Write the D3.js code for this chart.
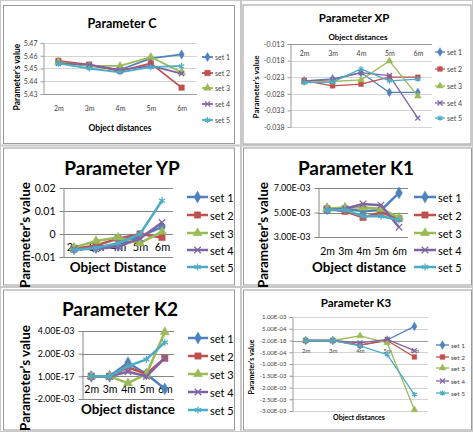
<!DOCTYPE html>
<html><head><meta charset="utf-8">
<script src="https://cdn.jsdelivr.net/npm/d3@7"></script>
<style>body{margin:0;background:#fff}svg{display:block}</style>
</head><body>
<script>
// ---------- DATA ----------
const categories = ["2m", "3m", "4m", "5m", "6m"];
const seriesNames = ["set 1", "set 2", "set 3", "set 4", "set 5"];
const seriesColors = ["#4F81BD", "#C0504D", "#9BBB59", "#8064A2", "#4BACC6"];

const cValues = [
  [5.455, 5.452, 5.449, 5.458, 5.461],
  [5.456, 5.453, 5.448, 5.454, 5.435],
  [5.455, 5.452, 5.452, 5.459, 5.447],
  [5.454, 5.453, 5.449, 5.452, 5.446],
  [5.454, 5.450, 5.447, 5.451, 5.452]
];
const cTicks = [5.43, 5.44, 5.45, 5.46, 5.47];
const cTickLabels = ["5.43", "5.44", "5.45", "5.46", "5.47"];

const xpValues = [
  [-0.0241, -0.0235, -0.0216, -0.0276, -0.0276],
  [-0.0240, -0.0256, -0.0251, -0.0230, -0.0230],
  [-0.0245, -0.0243, -0.0238, -0.0181, -0.0287],
  [-0.0241, -0.0238, -0.0216, -0.0225, -0.0353],
  [-0.0246, -0.0245, -0.0205, -0.0241, -0.0236]
];
const xpTicks = [-0.038, -0.033, -0.028, -0.023, -0.018, -0.013];
const xpTickLabels = ["-0.038", "-0.033", "-0.028", "-0.023", "-0.018", "-0.013"];

const ypValues = [
  [-0.0065, -0.0060, -0.0050, -0.0010, 0.0030],
  [-0.0065, -0.0050, -0.0020, 0.0000, -0.0015],
  [-0.0060, -0.0030, -0.0015, -0.0040, 0.0010],
  [-0.0065, -0.0065, -0.0055, -0.0020, 0.0050],
  [-0.0070, -0.0060, -0.0040, 0.0000, 0.0145]
];
const ypTicks = [-0.01, 0, 0.01, 0.02];
const ypTickLabels = ["-0.01", "0", "0.01", "0.02"];

const k1Values = [
  [5.3e-3, 5.3e-3, 5.1e-3, 5.2e-3, 6.6e-3],
  [5.3e-3, 5.1e-3, 4.6e-3, 5.0e-3, 4.5e-3],
  [5.3e-3, 5.4e-3, 5.4e-3, 5.3e-3, 4.6e-3],
  [5.2e-3, 5.3e-3, 5.7e-3, 5.6e-3, 3.8e-3],
  [5.2e-3, 5.2e-3, 4.7e-3, 4.7e-3, 4.4e-3]
];
const k1Ticks = [3e-3, 5e-3, 7e-3];
const k1TickLabels = ["3.00E-03", "5.00E-03", "7.00E-03"];

const k2Values = [
  [0, 0, 1.2e-3, 0.2e-3, -1.1e-3],
  [0, 0, 0.8e-3, 0.2e-3, 1.6e-3],
  [0, 0, -0.6e-3, 0.2e-3, 3.9e-3],
  [0, 0, 0.4e-3, 0.0, 1.6e-3],
  [0, 0, 0.9e-3, 1.5e-3, 3.0e-3]
];
const k2Ticks = [-2e-3, 0, 2e-3, 4e-3];
const k2TickLabels = ["-2.00E-03", "1.00E-17", "2.00E-03", "4.00E-03"];

const k3Values = [
  [0, 0, -2.0e-4, 0.2e-4, 6.0e-4],
  [0, 0, -2.0e-4, 0.0, -7.0e-4],
  [0, 0, 2.0e-4, -1.0e-4, -2.95e-3],
  [0, 0, -1.0e-4, 0.5e-4, -4.3e-4],
  [0, 0, -2.3e-4, -6.0e-4, -2.3e-3]
];
const k3Ticks = [-3e-3, -2.5e-3, -2e-3, -1.5e-3, -1e-3, -5e-4, 0, 5e-4, 1e-3];
const k3TickLabels = ["-3.00E-03", "-2.50E-03", "-2.00E-03", "-1.50E-03", "-1.00E-03", "-5.00E-04", "-2.00E-18", "5.00E-04", "1.00E-03"];

// ---------- DRAW ----------
const W = 473, H = 432;
const svg = d3.select("body").append("svg").attr("width", W).attr("height", H);
svg.append("rect").attr("width", W).attr("height", H).attr("fill", "#fff");

const sepColor = "#c8c8c8";
[[241, 0, 241, H], [0, 145.5, W, 145.5], [0, 287, W, 287]].forEach(l =>
  svg.append("line").attr("x1", l[0]).attr("y1", l[1]).attr("x2", l[2]).attr("y2", l[3])
    .attr("stroke", sepColor).attr("stroke-width", 2));
svg.append("rect").attr("x", 0.5).attr("y", 0.5).attr("width", W - 1).attr("height", H - 1)
  .attr("fill", "none").attr("stroke", sepColor);
const frames = [
  [3, 5, 231, 138], [242.5, 4.5, 228, 139],
  [3, 147.5, 231, 137], [243, 147.5, 228, 137],
  [3, 289.5, 231, 140], [243, 289.5, 228, 140]
];
frames.forEach(f => svg.append("rect").attr("x", f[0] + 0.5).attr("y", f[1] + 0.5).attr("width", f[2]).attr("height", f[3])
  .attr("fill", "none").attr("stroke", "#9a9a9a").attr("stroke-width", 1));

const symbols = [d3.symbolDiamond, d3.symbolSquare, d3.symbolTriangle, d3.symbolTimes, d3.symbolAsterisk];
const symFilled = [true, true, true, false, false];

const FONT = "Lato, 'Open Sans', sans-serif";

function drawPanel(cfg, values, ticks, tickLabels) {
  const g = svg.append("g");
  const x = d3.scalePoint().domain(categories).range([cfg.left, cfg.right]).padding(0.5);
  const y = d3.scaleLinear().domain(cfg.domain).range([cfg.bottom, cfg.top]);

  g.append("g").selectAll("line").data(ticks).join("line")
    .attr("x1", cfg.left).attr("x2", cfg.right)
    .attr("y1", d => Math.round(y(d)) + 0.5).attr("y2", d => Math.round(y(d)) + 0.5)
    .attr("stroke", cfg.gridColor).attr("stroke-width", 1);

  const ya = d3.axisLeft(y).tickValues(ticks).tickFormat((d, i) => tickLabels[i])
    .tickSize(cfg.tickLen).tickSizeOuter(0).tickPadding(cfg.yPad);
  const yg = g.append("g").attr("transform", `translate(${cfg.left + 0.5},0)`).call(ya);
  yg.selectAll("path,line").attr("stroke", cfg.axisColor);
  yg.selectAll("text").attr("font-family", FONT).attr("font-size", cfg.yTickFont || cfg.tickFont).attr("fill", cfg.tickColor);

  const xAxisY = cfg.xAxisAt != null ? Math.round(y(cfg.xAxisAt)) + 0.5 : cfg.bottom + 0.5;
  const xa = d3.axisBottom(x).tickSize(0).tickSizeOuter(0).tickPadding(cfg.xPad);
  const xg = g.append("g").attr("transform", `translate(0,${xAxisY})`).call(xa);
  xg.select("path").attr("stroke", cfg.axisColor).attr("d", `M${cfg.left},0H${cfg.right}`);
  xg.selectAll("text").attr("font-family", FONT).attr("font-size", cfg.tickFont).attr("fill", cfg.tickColor);

  values.forEach((vals, si) => {
    const pts = vals.map((v, i) => [x(categories[i]), y(v)]);
    g.append("path").attr("d", d3.line()(pts)).attr("fill", "none")
      .attr("stroke", seriesColors[si]).attr("stroke-width", cfg.lineWidth).attr("stroke-linejoin", "round");
    const sym = d3.symbol().type(symbols[si]).size(cfg.markerSize[si]);
    g.append("g").selectAll("path").data(pts).join("path")
      .attr("transform", d => `translate(${d[0]},${d[1]})`).attr("d", sym)
      .attr("fill", symFilled[si] ? seriesColors[si] : "none")
      .attr("stroke", seriesColors[si]).attr("stroke-width", symFilled[si] ? 0.5 : 1.2);
  });

  g.append("text").attr("x", cfg.title[0]).attr("y", cfg.title[1]).attr("text-anchor", "middle")
    .attr("dominant-baseline", "central").attr("font-family", FONT).attr("font-weight", "bold")
    .attr("font-size", cfg.titleFont).attr("fill", "#000").text(cfg.titleText);
  g.append("text").attr("x", cfg.xTitle[0]).attr("y", cfg.xTitle[1]).attr("text-anchor", "middle")
    .attr("dominant-baseline", "central").attr("font-family", FONT).attr("font-weight", "bold")
    .attr("font-size", cfg.axisTitleFont).attr("fill", "#000").text(cfg.xTitleText);
  g.append("text").attr("transform", `translate(${cfg.yTitle[0]},${cfg.yTitle[1]}) rotate(-90)`)
    .attr("text-anchor", "middle").attr("dominant-baseline", "central").attr("font-family", FONT)
    .attr("font-weight", "bold").attr("font-size", cfg.axisTitleFont).attr("fill", "#000").text("Parameter's value");

  seriesNames.forEach((name, si) => {
    const ly = cfg.legendY[si];
    const lg = g.append("g");
    lg.append("line").attr("x1", cfg.legendX[0]).attr("x2", cfg.legendX[1]).attr("y1", ly).attr("y2", ly)
      .attr("stroke", seriesColors[si]).attr("stroke-width", cfg.lineWidth);
    lg.append("path").attr("transform", `translate(${(cfg.legendX[0] + cfg.legendX[1]) / 2},${ly})`)
      .attr("d", d3.symbol().type(symbols[si]).size(cfg.markerSize[si]))
      .attr("fill", symFilled[si] ? seriesColors[si] : "none")
      .attr("stroke", seriesColors[si]).attr("stroke-width", symFilled[si] ? 0.5 : 1.2);
    lg.append("text").attr("x", cfg.legendX[1] + 2).attr("y", ly).attr("dominant-baseline", "central")
      .attr("font-family", FONT).attr("font-size", cfg.legendFont).attr("fill", cfg.legendColor).text(name);
  });
  return g;
}

const smallMarkers = [22, 22, 20, 18, 22];
const bigMarkers = [40, 40, 36, 30, 36];

drawPanel({
  left: 43, right: 197, top: 43, bottom: 94, domain: [5.43, 5.47], xAxisAt: null,
  gridColor: "#d4d4d4", axisColor: "#9a9a9a", tickLen: 3, yPad: 3, xPad: 12,
  tickFont: 7, tickColor: "#444", lineWidth: 1.8, markerSize: [24, 30, 26, 20, 24],
  title: [122, 23], titleText: "Parameter  C", titleFont: 12.5,
  xTitle: [120, 128], xTitleText: "Object distances", yTitle: [17, 77], axisTitleFont: 8.5,
  legendX: [202, 213], legendY: [57, 73, 88, 104, 120], legendFont: 7, legendColor: "#444"
}, cValues, cTicks, cTickLabels);

drawPanel({
  left: 290, right: 432, top: 44, bottom: 127, domain: [-0.038, -0.013], xAxisAt: -0.013,
  gridColor: "#d4d4d4", axisColor: "#9a9a9a", tickLen: 3, yPad: 3, xPad: 7,
  tickFont: 7, tickColor: "#444", lineWidth: 1.3, markerSize: smallMarkers,
  title: [354, 17], titleText: "Parameter XP", titleFont: 11.5,
  xTitle: [358, 37], xTitleText: "Object distances", yTitle: [256, 87], axisTitleFont: 8,
  legendX: [435, 445], legendY: [52, 69, 86, 103, 118], legendFont: 7, legendColor: "#444"
}, xpValues, xpTicks, xpTickLabels);

drawPanel({
  left: 63, right: 173, top: 188, bottom: 257, domain: [-0.01, 0.02], xAxisAt: 0,
  gridColor: "#868686", axisColor: "#868686", tickLen: 4, yPad: 4, xPad: 9,
  tickFont: 11, yTickFont: 10.5, tickColor: "#000", lineWidth: 2.5, markerSize: bigMarkers,
  title: [122, 167], titleText: "Parameter YP", titleFont: 19,
  xTitle: [118, 267], xTitleText: "Object Distance", yTitle: [25, 235], axisTitleFont: 13.5,
  legendX: [187, 208], legendY: [197, 215, 233, 250, 267], legendFont: 11, legendColor: "#000"
}, ypValues, ypTicks, ypTickLabels);

drawPanel({
  left: 318, right: 408, top: 188, bottom: 237, domain: [3e-3, 7e-3], xAxisAt: null,
  gridColor: "#868686", axisColor: "#868686", tickLen: 4, yPad: 4, xPad: 10,
  tickFont: 10.5, yTickFont: 9, tickColor: "#000", lineWidth: 2.5, markerSize: bigMarkers,
  title: [356, 167], titleText: "Parameter K1", titleFont: 19,
  xTitle: [359, 267], xTitleText: "Object distance", yTitle: [263, 235], axisTitleFont: 13.5,
  legendX: [414, 436], legendY: [197, 215, 233, 250, 267], legendFont: 11, legendColor: "#000"
}, k1Values, k1Ticks, k1TickLabels);

drawPanel({
  left: 82, right: 174, top: 331, bottom: 399, domain: [-2e-3, 4e-3], xAxisAt: 0,
  gridColor: "#868686", axisColor: "#868686", tickLen: 4, yPad: 4, xPad: 9,
  tickFont: 10.5, yTickFont: 9, tickColor: "#000", lineWidth: 2.5, markerSize: bigMarkers,
  title: [120, 308], titleText: "Parameter K2", titleFont: 19,
  xTitle: [128, 409], xTitleText: "Object distance", yTitle: [25, 378], axisTitleFont: 13.5,
  legendX: [188, 208], legendY: [338, 356, 374, 392, 410], legendFont: 11, legendColor: "#000"
}, k2Values, k2Ticks, k2TickLabels);

drawPanel({
  left: 292, right: 428, top: 317, bottom: 411, domain: [-3e-3, 1e-3], xAxisAt: 0,
  gridColor: "#d4d4d4", axisColor: "#9a9a9a", tickLen: 3, yPad: 3, xPad: 7,
  tickFont: 6, tickColor: "#444", lineWidth: 1.3, markerSize: smallMarkers,
  title: [356, 302], titleText: "Parameter K3", titleFont: 11.5,
  xTitle: [359, 417], xTitleText: "Object distances", yTitle: [251, 367], axisTitleFont: 7,
  legendX: [436, 449], legendY: [345, 357, 368, 381, 393], legendFont: 6.5, legendColor: "#444"
}, k3Values, k3Ticks, k3TickLabels);
</script>
</body></html>
